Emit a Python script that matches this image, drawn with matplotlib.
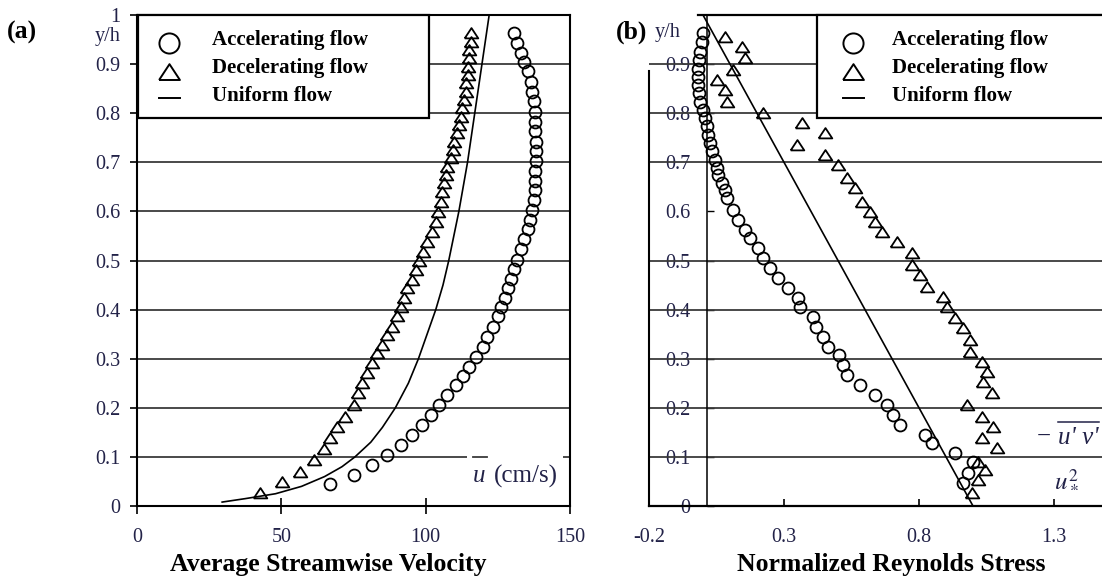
import matplotlib
matplotlib.use('Agg')
import matplotlib.pyplot as plt
from matplotlib.lines import Line2D
from matplotlib.patches import Rectangle

W, H = 1102, 586
plt.rcParams['font.family'] = ['Liberation Serif', 'DejaVu Serif']
plt.rcParams['mathtext.fontset'] = 'stix'

# ---------------- data: panel (a) ----------------
acc_u_a = [67, 75, 81.5, 86.7, 91.3, 95.4, 98.8, 101.7, 104.6, 107.5, 110.5, 112.9, 115, 117.4,
           119.7, 121.4, 123.2, 124.9, 126, 127.4, 128.6, 129.5, 130.7, 131.8, 133, 133.9, 135.3,
           136.2, 137, 137.6, 137.8, 138, 138, 138.2, 138.2, 138.2, 138, 138, 137.8, 137.6,
           137.0, 136.5, 135.3, 134.1, 133.0, 131.8, 130.7]
acc_yh_a = [0.044, 0.063, 0.083, 0.104, 0.124, 0.145, 0.165, 0.185, 0.206, 0.226, 0.246, 0.264,
            0.284, 0.304, 0.324, 0.345, 0.365, 0.386, 0.405, 0.423, 0.443, 0.462, 0.482, 0.502,
            0.523, 0.543, 0.564, 0.582, 0.603, 0.623, 0.643, 0.662, 0.682, 0.702, 0.722, 0.742,
            0.763, 0.783, 0.803, 0.824, 0.844, 0.864, 0.885, 0.905, 0.922, 0.942, 0.963]

dec_u_a = [115.6, 115.6, 115.0, 115.0, 114.5, 114.5, 113.9, 113.9, 113.3, 112.7, 112.2, 111.6,
           111.0, 109.8, 109.3, 108.7, 107.5, 106.9, 106.4, 105.8, 105.2, 104.1, 103.5, 102.3,
           100.6, 99.2, 97.7, 96.5, 95.4, 93.6, 92.5, 91.3, 90.2, 88.4, 86.7, 85.0, 83.2, 81.5,
           79.8, 78.0, 76.5, 75.0, 72.2, 69.3, 67.0, 64.7, 61.2, 56.5, 50.2, 42.7]
dec_yh_a = [0.963, 0.946, 0.929, 0.912, 0.895, 0.878, 0.861, 0.844, 0.827, 0.81, 0.793, 0.776,
            0.759, 0.742, 0.725, 0.708, 0.691, 0.674, 0.657, 0.64, 0.62, 0.599, 0.579, 0.559,
            0.538, 0.518, 0.498, 0.481, 0.46, 0.443, 0.423, 0.406, 0.386, 0.365, 0.348, 0.328,
            0.311, 0.291, 0.27, 0.25, 0.23, 0.205, 0.182, 0.161, 0.138, 0.117, 0.094, 0.07,
            0.049, 0.026]

uni_u_a = [29.5, 37.5, 48, 57, 65, 71, 75.5, 81, 85, 89.5, 94, 97.5, 100.5, 103.5, 106, 108,
           111.5, 114.5, 117, 119.5, 122]
uni_yh_a = [0.008, 0.015, 0.025, 0.04, 0.06, 0.08, 0.1, 0.13, 0.16, 0.2, 0.25, 0.3, 0.35, 0.4,
            0.45, 0.5, 0.6, 0.7, 0.8, 0.9, 1.0]

# ---------------- data: panel (b) ----------------
acc_rs_b = [0.001, -0.005, -0.011, -0.014, -0.017, -0.020, -0.017, -0.014, -0.011, -0.001, 0.007,
            0.014, 0.020, 0.026, 0.032, 0.044, 0.051, 0.057, 0.069, 0.081, 0.09, 0.111, 0.13,
            0.156, 0.174, 0.204, 0.222, 0.248, 0.278, 0.315, 0.352, 0.359, 0.407, 0.419, 0.444,
            0.463, 0.504, 0.519, 0.533, 0.581, 0.637, 0.681, 0.704, 0.73, 0.822, 0.848, 0.933,
            1.0, 0.981, 0.963]
acc_yh_b = [0.963, 0.944, 0.925, 0.908, 0.891, 0.874, 0.857, 0.841, 0.823, 0.807, 0.79, 0.773,
            0.756, 0.739, 0.722, 0.705, 0.688, 0.674, 0.657, 0.644, 0.628, 0.603, 0.582, 0.562,
            0.546, 0.525, 0.505, 0.485, 0.464, 0.444, 0.424, 0.405, 0.385, 0.365, 0.344, 0.324,
            0.308, 0.287, 0.267, 0.246, 0.226, 0.206, 0.185, 0.165, 0.145, 0.128, 0.108, 0.09,
            0.067, 0.047]

dec_rs_b = [0.081, 0.144, 0.156, 0.111, 0.052, 0.081, 0.089, 0.222, 0.367, 0.452, 0.348, 0.452,
            0.5, 0.533, 0.563, 0.589, 0.619, 0.637, 0.663, 0.719, 0.774, 0.774, 0.804, 0.83,
            0.889, 0.904, 0.933, 0.963, 0.989, 0.989, 1.033, 1.052, 1.037, 1.07, 0.978, 1.033,
            1.074, 1.033, 1.089, 1.019, 1.044, 1.019, 0.996]
dec_yh_b = [0.955, 0.935, 0.912, 0.888, 0.868, 0.847, 0.823, 0.80, 0.78, 0.76, 0.735, 0.715,
            0.695, 0.668, 0.648, 0.62, 0.599, 0.578, 0.558, 0.538, 0.515, 0.491, 0.47, 0.446,
            0.426, 0.405, 0.383, 0.363, 0.338, 0.314, 0.293, 0.273, 0.253, 0.23, 0.206, 0.181,
            0.161, 0.138, 0.118, 0.09, 0.073, 0.053, 0.026]

uni_rs_b = [0.0, 1.0]
uni_yh_b = [1.0, 0.0]

# ---------------- ticks / labels ----------------
xticks_a = [0, 50, 100, 150]
xticklabels_a = ['0', '50', '100', '150']
yticks_a = [0, 0.1, 0.2, 0.3, 0.4, 0.5, 0.6, 0.7, 0.8, 0.9, 1.0]
yticklabels_a = ['0', '0.1', '0.2', '0.3', '0.4', '0.5', '0.6', '0.7', '0.8', '0.9', '1']
grid_a = [0.1, 0.2, 0.3, 0.4, 0.5, 0.6, 0.7, 0.8, 0.9]

xticks_b = [-0.2, 0.3, 0.8, 1.3]
xticklabels_b = ['-0.2', '0.3', '0.8', '1.3']
yticks_b = [0, 0.1, 0.2, 0.3, 0.4, 0.5, 0.6, 0.7, 0.8, 0.9]
yticklabels_b = ['0', '0.1', '0.2', '0.3', '0.4', '0.5', '0.6', '0.7', '0.8', '0.9']
grid_b = [0.1, 0.2, 0.3, 0.4, 0.5, 0.7, 0.8, 0.9]

legend_labels = ['Accelerating flow', 'Decelerating flow', 'Uniform flow']

# ---------------- styling ----------------
tc = '#222248'
gc = '#3a3a3a'
tri = [(-1, -0.72), (1, -0.72), (0, 0.8), (-1, -0.72)]
ms_c, ms_t, mew = 8.6, 9.8, 1.3


def X(px):
    return px / W


def Y(py):
    return 1 - py / H


fig = plt.figure(figsize=(W / 100, H / 100), dpi=100)

# ---------------- panel (a) ----------------
axA = fig.add_axes([X(137), Y(506), (570 - 137) / W, (506 - 15) / H])
axA.set_xlim(0, 150)
axA.set_ylim(0, 1)
for lev in grid_a:
    axA.axhline(lev, color=gc, lw=1.3, zorder=1)
axA.plot(uni_u_a, uni_yh_a, color='k', lw=1.2, zorder=3)
axA.plot(dec_u_a, dec_yh_a, ls='none', marker=tri, ms=ms_t, mfc='none', mec='k', mew=mew, zorder=4)
axA.plot(acc_u_a, acc_yh_a, ls='none', marker='o', ms=ms_c, mfc='none', mec='k', mew=mew, zorder=4)
axA.set_xticks(xticks_a)
axA.set_xticklabels(xticklabels_a)
axA.set_yticks(yticks_a)
axA.set_yticklabels(yticklabels_a)
axA.tick_params(axis='x', direction='inout', length=11, width=1.2, pad=10.5,
                labelsize=14.5, labelcolor=tc)
axA.tick_params(axis='y', direction='out', length=5, width=1.2, pad=7,
                labelsize=14.5, labelcolor=tc)
for s in axA.spines.values():
    s.set_linewidth(1.5)

# ---------------- panel (b) ----------------
xmax_b = -0.2 + 453 / 270
axB = fig.add_axes([X(649), Y(506), (1102 - 649) / W, (506 - 15) / H])
axB.set_xlim(-0.2, xmax_b)
axB.set_ylim(0, 1)
axB.spines['top'].set_visible(False)
axB.spines['right'].set_visible(False)
axB.spines['left'].set_position(('data', 0.015))
axB.spines['left'].set_linewidth(1.1)
axB.spines['bottom'].set_linewidth(1.6)
for lev in grid_b:
    axB.axhline(lev, color=gc, lw=1.3, zorder=2)
axB.plot([-0.2, -0.2], [0, 0.886], color='k', lw=1.5, clip_on=False, zorder=3)
axB.plot([-0.018, xmax_b + 0.01], [1, 1], color='k', lw=1.6, clip_on=False, zorder=3)
axB.plot(uni_rs_b, uni_yh_b, color='k', lw=1.2, zorder=3)
axB.plot(dec_rs_b, dec_yh_b, ls='none', marker=tri, ms=ms_t, mfc='none', mec='k', mew=mew, zorder=4)
axB.plot(acc_rs_b, acc_yh_b, ls='none', marker='o', ms=ms_c, mfc='none', mec='k', mew=mew, zorder=4)
axB.set_xticks(xticks_b)
axB.set_xticklabels(xticklabels_b)
axB.set_yticks(yticks_b)
axB.set_yticklabels(yticklabels_b)
axB.tick_params(axis='x', direction='in', length=5, width=1.2, pad=16,
                labelsize=14.5, labelcolor=tc)
axB.tick_params(axis='y', direction='in', length=5, width=1.0, pad=12,
                labelsize=14.5, labelcolor=tc)

# ---------------- figure-level texts ----------------
fig.text(X(22), Y(32), '(a)', fontsize=18.5, fontweight='bold', ha='center', va='center')
fig.text(X(632), Y(32), '(b)', fontsize=18.5, fontweight='bold', ha='center', va='center')
fig.text(X(108), Y(37), 'y/h', fontsize=14.5, color=tc, ha='center', va='center')
fig.text(X(668), Y(33), 'y/h', fontsize=14.5, color=tc, ha='center', va='center', zorder=6)
fig.text(X(328), Y(564), 'Average Streamwise Velocity', fontsize=18.5, fontweight='bold',
         ha='center', va='center')
fig.text(X(891), Y(564), 'Normalized Reynolds Stress', fontsize=18.5, fontweight='bold',
         ha='center', va='center')

# u (cm/s) label in panel (a)
fig.add_artist(Rectangle((X(467), Y(464)), (563 - 467) / W, 14 / H, transform=fig.transFigure,
                         facecolor='white', edgecolor='none', zorder=5))
fig.add_artist(Line2D([X(473), X(487)], [Y(457), Y(457)], transform=fig.transFigure,
                      color=gc, lw=1.3, zorder=6))
fig.text(X(479), Y(476), 'u', fontsize=18, fontstyle='italic', color=tc, ha='center',
         va='center', zorder=6)
fig.text(X(526), Y(476), '(cm/s)', fontsize=18, color=tc, ha='center', va='center', zorder=6)

# normalized stress label in panel (b)
fig.text(X(1044), Y(437), '\u2212', fontsize=18, color=tc, ha='center', va='center', zorder=6)
fig.text(X(1078), Y(438), "u' v'", fontsize=18, fontstyle='italic', color=tc, ha='center',
         va='center', zorder=6)
fig.add_artist(Line2D([X(1058), X(1099)], [Y(422), Y(422)], transform=fig.transFigure,
                      color=tc, lw=1.1, zorder=6))
fig.text(X(1066), Y(479), r"$u_*^2$", fontsize=18, color=tc, ha='center', va='center', zorder=6)


# ---------------- legends ----------------
def draw_legend(x0, x1, mx, tx):
    fig.add_artist(Rectangle((X(x0), Y(118)), (x1 - x0) / W, (118 - 15) / H,
                             transform=fig.transFigure, facecolor='white', edgecolor='k',
                             lw=1.6, zorder=7))
    fig.add_artist(Line2D([X(mx)], [Y(43)], transform=fig.transFigure, ls='none', marker='o',
                          ms=14.5, mfc='none', mec='k', mew=1.4, zorder=8))
    fig.add_artist(Line2D([X(mx)], [Y(72)], transform=fig.transFigure, ls='none', marker=tri,
                          ms=15, mfc='none', mec='k', mew=1.4, zorder=8))
    fig.add_artist(Line2D([X(mx - 10.5), X(mx + 10.5)], [Y(98), Y(98)],
                          transform=fig.transFigure, color='k', lw=1.4, zorder=8))
    for lab, yy in zip(legend_labels, [40, 68, 96]):
        fig.text(X(tx), Y(yy), lab, fontsize=15, fontweight='bold', ha='left', va='center',
                 zorder=8)


draw_legend(138, 429, 169, 212)
draw_legend(817, 1104, 853, 892)

fig.savefig('out.png', dpi=100)
